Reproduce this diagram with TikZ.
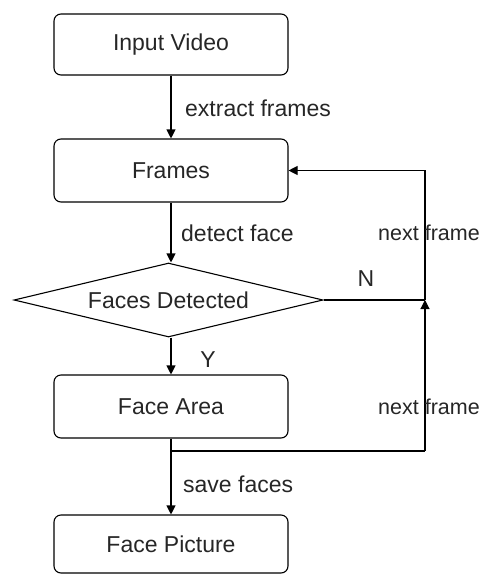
\documentclass[tikz,border=0pt]{standalone}
\usepackage{fontspec}
\setmainfont{Liberation Sans}
\usetikzlibrary{arrows.meta,shapes.geometric}
\begin{document}
\begin{tikzpicture}[x=1pt,y=1pt,
  every node/.style={font=\fontsize{23}{27}\selectfont, text=black!85},
  stepbox/.style={draw, line width=1.1pt, rounded corners=7pt, minimum width=234pt, anchor=center, inner sep=0pt},
  decision/.style={draw, diamond, aspect=4.2, line width=1.1pt, minimum width=309pt, minimum height=74pt, inner sep=0pt},
  line/.style={line width=1.1pt},
  arr/.style={line, -{Triangle[width=9pt,length=9pt]}},
  lbl/.style={anchor=west, inner sep=0pt},
  sidelbl/.style={lbl, font=\fontsize{21.5}{25}\selectfont}
]
\useasboundingbox (0,0) rectangle (483,-574);

% process steps
\node[stepbox, minimum height=61pt] (in) at (171,-44.5) {Input Video};
\node[stepbox, minimum height=63pt] (fr) at (171,-170.5) {Frames};
\node[decision] (dec) at (168.5,-300) {Faces Detected};
\node[stepbox, minimum height=63pt] (fa) at (171,-406.5) {Face Area};
\node[stepbox, minimum height=58pt] (fp) at (171,-544) {Face Picture};

% feedback junctions
\coordinate (jn) at (425,-300);
\coordinate (br) at (171,-451);
\coordinate (bc) at (425,-451);
\coordinate (top) at (425,-170.5);

% main flow
\draw[arr] (in) -- (fr);
\draw[arr] (fr) -- (fr.south |- dec.north);
\draw[arr] (fr.south |- dec.south) -- (fa);
\draw[arr] (fa) -- (fp);

% loop back to the next frame
\draw[line] (br) -- (bc);
\draw[arr] (bc) -- (jn);
\draw[line] (dec.east) -- (jn);
\draw[arr] (jn) -- (top) -- (fr.east);

% labels
\node[lbl] (l1) at (185,-108) {extract frames};
\node[lbl] (l2) at (181,-233) {detect face};
\node (ln) at (366,-279) {N};
\node (ly) at (208,-360) {Y};
\node[sidelbl] (l3) at (378,-233) {next frame};
\node[sidelbl] (l4) at (378,-407) {next frame};
\node[lbl] (l5) at (183,-484) {save faces};
\end{tikzpicture}
\end{document}
